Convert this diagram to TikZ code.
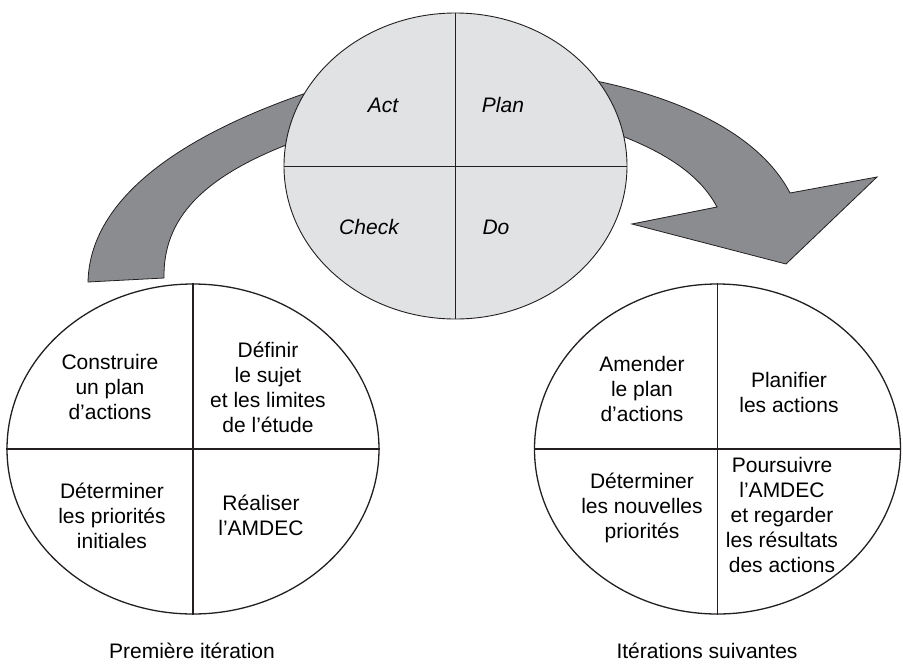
\documentclass[tikz,border=0pt]{standalone}
\usepackage{fontspec}
\setmainfont{Liberation Sans}
\usetikzlibrary{shapes.geometric}
\definecolor{cWHEEL}{HTML}{E1E2E4}
\definecolor{cARROW}{HTML}{8B8C90}
\definecolor{cLINE}{HTML}{231F20}
\tikzset{
  wheel/.style 2 args={
    ellipse, draw=cLINE, line width=0.9pt,
    inner sep=0pt,
    minimum width=#1,
    minimum height=#2
  },
  spoke/.style={draw=cLINE, line width=0.9pt},
  bigarrow/.style={
    fill=cARROW, draw=cLINE,
    line width=0.8pt,
    line join=miter
  },
  steptext/.style={
    font=\fontsize{21}{25}\selectfont,
    align=center,
    inner sep=0pt
  },
  pdcatext/.style={
    steptext,
    font=\fontsize{21}{25}\selectfont\itshape
  }
}

\begin{document}
\begin{tikzpicture}[x=1pt, y=-1pt]
  \useasboundingbox (0,0) rectangle (903,665);

  % arrows, behind the PDCA wheel
  \draw[bigarrow] (337,83) .. controls (200,125) and (90,190) .. (88,282)
    -- (164,278) .. controls (163,220) and (200,175) .. (305,138) -- cycle;
  \draw[bigarrow] (575,77) .. controls (680,95) and (760,135) .. (790,193)
    -- (877,177) -- (786,264) -- (632,224) -- (717,207)
    .. controls (700,175) and (665,150) .. (600,128) -- cycle;

  % PDCA wheel
  \node[wheel={343pt}{306pt}, fill=cWHEEL] (pdca) at (455.5,166) {};
  \draw[spoke] (pdca.north) -- (pdca.south);
  \draw[spoke] (pdca.west) -- (pdca.east);
  \node[pdcatext] (act)   at (383,105) {Act};
  \node[pdcatext] (plan)  at (503,105) {Plan};
  \node[pdcatext] (check) at (369,227) {Check};
  \node[pdcatext] (do)    at (496,227) {Do};

  % first iteration
  \node[wheel={372pt}{330pt}, line width=1.3pt] (first) at (193,449) {};
  \draw[spoke, line width=1.3pt] (first.north) -- (first.south);
  \draw[spoke, line width=1.3pt] (first.west) -- (first.east);
  \node[steptext] (f-act)   at (110,387) {Construire\\un plan\\d’actions};
  \node[steptext] (f-plan)  at (268,387) {Définir\\le sujet\\et les limites\\de l’étude};
  \node[steptext] (f-check) at (112,516) {Déterminer\\les priorités\\initiales};
  \node[steptext] (f-do)    at (261,515) {Réaliser\\l’AMDEC};
  \node[steptext, anchor=base] (f-title) at (192,658) {Première itération};

  % next iterations
  \node[wheel={366pt}{330pt}, line width=1.3pt] (next) at (717.5,449) {};
  \draw[spoke, line width=1.3pt] (next.north) -- (next.south);
  \draw[spoke, line width=1.3pt] (next.west) -- (next.east);
  \node[steptext] (n-act)   at (642,389) {Amender\\le plan\\d’actions};
  \node[steptext] (n-plan)  at (789,392) {Planifier\\les actions};
  \node[steptext] (n-check) at (642,508) {Déterminer\\les nouvelles\\priorités};
  \node[steptext] (n-do)    at (782,515) {Poursuivre\\l’AMDEC\\et regarder\\les résultats\\des actions};
  \node[steptext, anchor=base] (n-title) at (707,658) {Itérations suivantes};
\end{tikzpicture}
\end{document}
